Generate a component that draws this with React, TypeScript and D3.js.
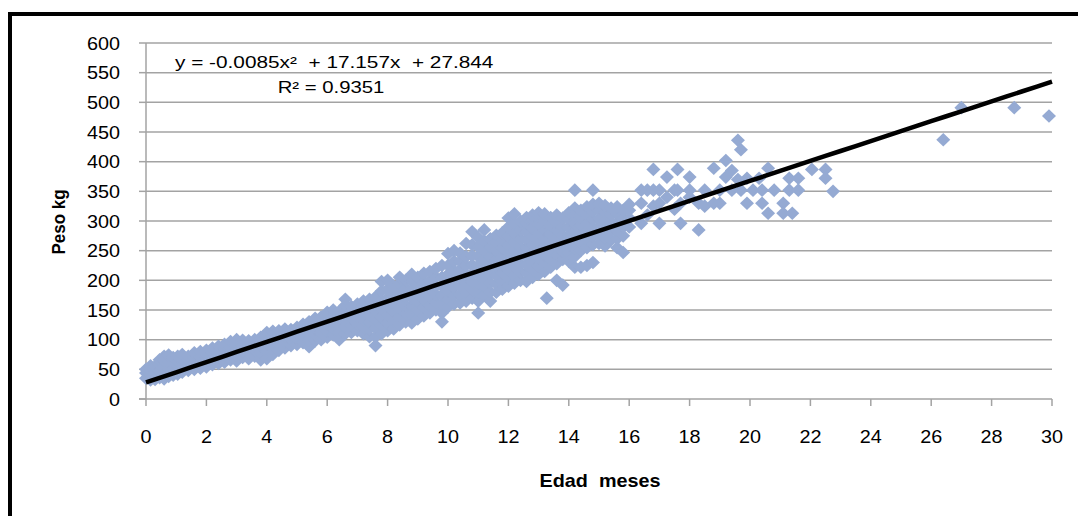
import React from "react";
import * as d3 from "d3";

// ---- data ----
const xTicks = [0, 2, 4, 6, 8, 10, 12, 14, 16, 18, 20, 22, 24, 26, 28, 30];
const yTicks = [0, 50, 100, 150, 200, 250, 300, 350, 400, 450, 500, 550, 600];
const trendCoef = [-0.0085, 17.157, 27.844]; // a x^2 + b x + c
const equationLabel = "y = -0.0085x²  + 17.157x  + 27.844";
const r2Label = "R² = 0.9351";
const xTitle = "Edad  meses";
const yTitle = "Peso kg";

// observations grouped by age (months) -> weights (kg)
const observaciones: [number, number[]][] = [
  [0.0, [35, 44, 50]],
  [0.15, [32, 40, 48, 56]],
  [0.3, [33, 45, 55]],
  [0.45, [36, 47, 58, 66]],
  [0.6, [34, 44, 55, 65, 72]],
  [0.75, [38, 50, 62, 74]],
  [0.9, [40, 52, 61, 70]],
  [1.05, [42, 55, 63, 72]],
  [1.2, [45, 56, 68, 75]],
  [1.4, [48, 58, 66, 72]],
  [1.6, [50, 60, 70, 78]],
  [1.8, [52, 62, 71, 80]],
  [2.0, [54, 65, 74, 82]],
  [2.2, [58, 68, 77, 86]],
  [2.4, [60, 70, 80, 89]],
  [2.6, [62, 73, 84, 92]],
  [2.8, [66, 76, 87, 97]],
  [3.0, [64, 74, 84, 92, 100]],
  [3.2, [70, 80, 90, 99]],
  [3.4, [68, 79, 88, 98]],
  [3.6, [72, 82, 91, 100]],
  [3.8, [66, 78, 90, 104]],
  [4.0, [68, 80, 93, 104, 112]],
  [4.2, [75, 86, 96, 106, 114]],
  [4.4, [82, 92, 102, 115]],
  [4.6, [86, 96, 106, 118]],
  [4.8, [90, 100, 110, 117]],
  [5.0, [92, 102, 112, 121]],
  [5.2, [95, 106, 116, 126]],
  [5.4, [88, 100, 110, 120, 130]],
  [5.6, [98, 108, 118, 128, 136]],
  [5.8, [100, 112, 124, 138]],
  [6.0, [104, 115, 126, 136, 146]],
  [6.2, [108, 118, 129, 140, 150]],
  [6.4, [100, 112, 124, 136, 148]],
  [6.6, [110, 122, 134, 146, 158, 168]],
  [6.8, [112, 124, 136, 148, 156]],
  [7.0, [115, 127, 139, 150, 160]],
  [7.2, [110, 122, 134, 146, 158, 165]],
  [7.4, [105, 118, 130, 142, 154, 168]],
  [7.6, [90, 105, 120, 134, 148, 160, 172]],
  [7.8, [110, 124, 138, 152, 166, 182, 198]],
  [8.0, [115, 128, 142, 156, 170, 185, 200]],
  [8.2, [118, 132, 146, 160, 174, 190]],
  [8.4, [125, 138, 152, 166, 180, 195, 205]],
  [8.6, [130, 144, 158, 172, 186, 200]],
  [8.8, [128, 142, 156, 170, 184, 198, 210]],
  [9.0, [135, 150, 164, 178, 192, 205]],
  [9.2, [140, 154, 168, 182, 196, 212]],
  [9.4, [145, 158, 172, 186, 200, 215]],
  [9.6, [150, 163, 176, 190, 205, 220]],
  [9.8, [130, 145, 160, 175, 190, 205, 225]],
  [10.0, [155, 168, 182, 196, 210, 225, 245]],
  [10.2, [160, 174, 188, 202, 216, 232, 250]],
  [10.4, [162, 176, 190, 204, 218, 232, 246]],
  [10.6, [165, 180, 195, 210, 225, 240, 262]],
  [10.8, [170, 184, 198, 212, 226, 242, 260, 282]],
  [11.0, [145, 165, 180, 195, 210, 225, 240, 256, 272]],
  [11.2, [175, 190, 205, 220, 235, 250, 266, 285]],
  [11.4, [165, 180, 195, 210, 225, 240, 256, 270]],
  [11.6, [180, 194, 208, 222, 236, 250, 264, 276]],
  [11.8, [185, 198, 212, 226, 240, 254, 268, 280]],
  [12.0, [190, 204, 218, 232, 246, 260, 275, 290, 305]],
  [12.2, [195, 208, 222, 236, 250, 264, 280, 296, 312]],
  [12.4, [200, 214, 228, 242, 256, 270, 285, 300]],
  [12.6, [198, 212, 226, 240, 254, 268, 282, 296, 306]],
  [12.8, [205, 218, 232, 246, 260, 274, 288, 302, 310]],
  [13.0, [210, 224, 238, 252, 266, 280, 294, 308, 314]],
  [13.2, [215, 228, 242, 256, 270, 284, 298, 312]],
  [13.27, [170]],
  [13.4, [222, 236, 250, 264, 278, 292, 306]],
  [13.6, [200, 228, 242, 256, 270, 284, 298, 310]],
  [13.8, [192, 235, 249, 262, 276, 290, 305]],
  [14.0, [232, 246, 260, 274, 288, 302, 314]],
  [14.2, [222, 240, 254, 268, 282, 296, 310, 322, 352]],
  [14.4, [222, 250, 264, 278, 292, 306, 318]],
  [14.6, [225, 255, 268, 282, 296, 310, 324]],
  [14.8, [230, 260, 274, 288, 302, 316, 328, 352]],
  [15.0, [262, 276, 290, 304, 318, 330]],
  [15.2, [258, 272, 286, 300, 314, 326]],
  [15.4, [268, 282, 296, 310, 322]],
  [15.6, [255, 270, 284, 298, 312, 324]],
  [15.8, [247, 275, 290, 305, 318]],
  [16.0, [290, 305, 318, 328]],
  [16.4, [296, 330, 352]],
  [16.6, [310, 352]],
  [16.8, [387, 352, 325]],
  [17.0, [296, 352, 330]],
  [17.25, [374, 340]],
  [17.5, [352, 320]],
  [17.6, [387, 352]],
  [17.7, [296, 330]],
  [18.0, [374, 352, 340]],
  [18.3, [285, 330]],
  [18.5, [352, 325]],
  [18.8, [389, 330]],
  [19.0, [352, 330]],
  [19.2, [374, 402]],
  [19.4, [352, 385]],
  [19.6, [436, 370]],
  [19.7, [420, 352]],
  [19.9, [372, 330]],
  [20.1, [352]],
  [20.3, [372]],
  [20.4, [352, 330]],
  [20.6, [389, 313]],
  [20.8, [352]],
  [21.1, [330, 313]],
  [21.3, [352, 372]],
  [21.4, [313]],
  [21.6, [352, 372]],
  [22.05, [387]],
  [22.5, [387, 372]],
  [22.75, [350]],
  [26.4, [437]],
  [27.0, [491]],
  [28.75, [491]],
  [29.9, [477]],
];

const W = 1078;
const H = 516;

export default function App() {
  const x = d3.scaleLinear().domain([0, 30]).range([146, 1052]);
  const y = d3.scaleLinear().domain([0, 600]).range([399, 43]);

  const points: { cx: number; cy: number }[] = [];
  observaciones.forEach(([age, ws]) =>
    ws.forEach((w) => points.push({ cx: x(age), cy: y(w) }))
  );

  const [a, b, c] = trendCoef;
  const trend = d3
    .line<number>()
    .x((t) => x(t))
    .y((t) => y(a * t * t + b * t + c));
  const trendPath = trend(d3.range(0, 30.01, 0.5)) || "";

  const diamond = (cx: number, cy: number) =>
    `M${cx},${cy - 6.8}L${cx + 7},${cy}L${cx},${cy + 6.8}L${cx - 7},${cy}Z`;

  const font = "Arial, 'Liberation Sans', sans-serif";
  const grid = "#A3A3A3";

  return (
    <svg
      width={W}
      height={H}
      style={{ position: "absolute", left: 0, top: 0, background: "#fff" }}
    >
      <rect x={10} y={14} width={1200} height={700} fill="#fff" stroke="#000" strokeWidth={4} />

      {/* gridlines */}
      {yTicks.filter((v) => v > 0).map((v) => (
        <line key={"g" + v} x1={x(0)} x2={x(30)} y1={y(v)} y2={y(v)} stroke={grid} strokeWidth={1.5} />
      ))}
      {/* axes */}
      <line x1={x(0)} x2={x(0)} y1={y(600)} y2={y(0)} stroke={grid} strokeWidth={1.5} />
      <line x1={x(0) - 7} x2={x(30)} y1={y(0)} y2={y(0)} stroke={grid} strokeWidth={1.5} />
      {yTicks.map((v) => (
        <line key={"yt" + v} x1={x(0) - 7} x2={x(0)} y1={y(v)} y2={y(v)} stroke={grid} strokeWidth={1.5} />
      ))}
      {xTicks.map((v) => (
        <line key={"xt" + v} x1={x(v)} x2={x(v)} y1={y(0)} y2={y(0) + 7} stroke={grid} strokeWidth={1.5} />
      ))}

      {/* tick labels */}
      {yTicks.map((v) => (
        <text
          key={"yl" + v}
          transform={`translate(${x(0) - 26},${y(v) + 6.5}) scale(1.1,1)`}
          textAnchor="end"
          fontFamily={font}
          fontSize={18}
          fill="#000"
        >
          {v}
        </text>
      ))}
      {xTicks.map((v) => (
        <text
          key={"xl" + v}
          transform={`translate(${x(v)},${y(0) + 44}) scale(1.1,1)`}
          textAnchor="middle"
          fontFamily={font}
          fontSize={18}
          fill="#000"
        >
          {v}
        </text>
      ))}

      {/* points */}
      {points.map((p, i) => (
        <path key={i} d={diamond(p.cx, p.cy)} fill="#95AAD3" />
      ))}

      {/* trend */}
      <path d={trendPath} fill="none" stroke="#000" strokeWidth={4.5} />

      {/* equation */}
      <text
        transform={`translate(175,68) scale(1.3,1)`}
        fontFamily={font}
        fontSize={16}
        fill="#000"
        style={{ whiteSpace: "pre" }}
      >
        {equationLabel}
      </text>
      <text
        transform={`translate(331,93) scale(1.27,1)`}
        textAnchor="middle"
        fontFamily={font}
        fontSize={16}
        fill="#000"
      >
        {r2Label}
      </text>

      {/* axis titles */}
      <text
        transform={`translate(600,487) scale(1.1,1)`}
        textAnchor="middle"
        fontFamily={font}
        fontSize={18}
        fontWeight="bold"
        fill="#000"
        style={{ whiteSpace: "pre" }}
      >
        {xTitle}
      </text>
      <text
        transform={`translate(65,222) rotate(-90) scale(1,1.1)`}
        textAnchor="middle"
        fontFamily={font}
        fontSize={17}
        fontWeight="bold"
        fill="#000"
      >
        {yTitle}
      </text>
    </svg>
  );
}
